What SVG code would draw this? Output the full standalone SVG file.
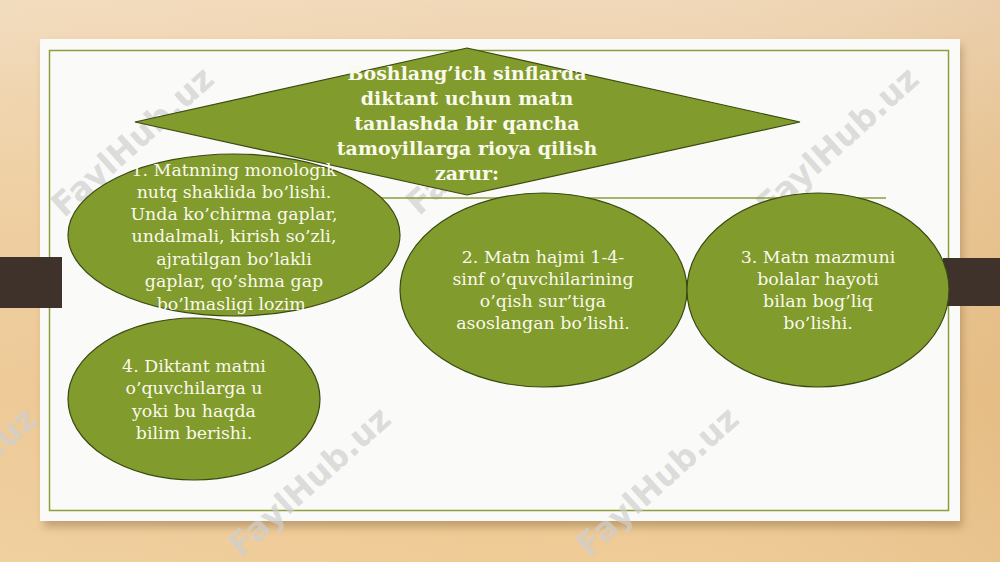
<svg xmlns="http://www.w3.org/2000/svg" width="1000" height="562" viewBox="0 0 1000 562">
  <defs>
    <linearGradient id="wood" x1="0" y1="0" x2="0" y2="1">
      <stop offset="0" stop-color="#f1d8b8"/>
      <stop offset="0.3" stop-color="#edcc9c"/>
      <stop offset="0.7" stop-color="#ebc48c"/>
      <stop offset="1" stop-color="#efcb96"/>
    </linearGradient>
    <linearGradient id="woodH" x1="0" y1="0" x2="1" y2="0">
      <stop offset="0" stop-color="#ffffff" stop-opacity="0.10"/>
      <stop offset="0.5" stop-color="#ffffff" stop-opacity="0"/>
      <stop offset="1" stop-color="#b07a40" stop-opacity="0.10"/>
    </linearGradient>
    <filter id="shadow" x="-5%" y="-5%" width="110%" height="115%">
      <feGaussianBlur stdDeviation="4"/>
    </filter>
    <style>
      .node { fill: #819b2c; stroke: #3b4a12; stroke-width: 1.2; }
      .t { font-family: "DejaVu Serif", "Liberation Serif", serif; fill: #f9f9ec; text-anchor: middle; font-size: 17.4px; }
      .tb { font-family: "DejaVu Serif", "Liberation Serif", serif; fill: #f9f9ec; text-anchor: middle; font-size: 19px; font-weight: bold; }
      .wm { font-family: "DejaVu Sans", "Liberation Sans", sans-serif; font-weight: bold; font-size: 33px; fill: #cfcfcf; fill-opacity: 0.7; text-anchor: middle; }
      .bar { fill: #3e322b; }
    </style>
  </defs>

  <!-- background -->
  <rect x="0" y="0" width="1000" height="562" fill="url(#wood)"/>
  <rect x="0" y="0" width="1000" height="562" fill="url(#woodH)"/>

  <!-- slide panel -->
  <rect x="44" y="45" width="918" height="482" fill="#6b4a28" opacity="0.35" filter="url(#shadow)"/>
  <rect x="40" y="39" width="920" height="482" fill="#fafaf8"/>
  <rect x="49.5" y="50.5" width="899" height="460" fill="none" stroke="#8a9e3c" stroke-width="1.5"/>

  <!-- side bars -->
  <rect class="bar" x="0" y="257" width="62" height="51"/>
  <rect class="bar" x="943" y="258" width="57" height="48"/>

  <!-- watermarks -->
  <g id="watermarks">
    <text class="wm" transform="translate(140,150) rotate(-42)">FaylHub.uz</text>
    <text class="wm" transform="translate(495,148) rotate(-42)">FaylHub.uz</text>
    <text class="wm" transform="translate(845,150) rotate(-42)">FaylHub.uz</text>
    <text class="wm" transform="translate(-37,490) rotate(-42)">FaylHub.uz</text>
    <text class="wm" transform="translate(317,490) rotate(-42)">FaylHub.uz</text>
    <text class="wm" transform="translate(665,490) rotate(-42)">FaylHub.uz</text>
  </g>

  <!-- connectors -->
  <g id="connectors">
    <line x1="380" y1="198" x2="886" y2="198" stroke="#8a9e3c" stroke-width="1.3"/>
  </g>

  <g id="node-title">
    <polygon class="node" points="135,122 467,48 800,122 467,195"/>
    <text class="tb" x="467" y="80">Boshlang’ich sinflarda</text>
    <text class="tb" x="467" y="105">diktant uchun matn</text>
    <text class="tb" x="467" y="130">tanlashda bir qancha</text>
    <text class="tb" x="467" y="155">tamoyillarga rioya qilish</text>
    <text class="tb" x="467" y="180">zarur:</text>
  </g>

  <g id="node-1">
    <ellipse class="node" cx="234" cy="235" rx="166" ry="81"/>
    <text class="t" x="234" y="176">1. Matnning monologik</text>
    <text class="t" x="234" y="198">nutq shaklida bo’lishi.</text>
    <text class="t" x="234" y="220">Unda ko’chirma gaplar,</text>
    <text class="t" x="234" y="242">undalmali, kirish so’zli,</text>
    <text class="t" x="234" y="265">ajratilgan bo’lakli</text>
    <text class="t" x="234" y="287">gaplar, qo’shma gap</text>
    <text class="t" x="234" y="310">bo’lmasligi lozim.</text>
  </g>

  <g id="node-2">
    <ellipse class="node" cx="543.5" cy="290" rx="143.5" ry="97"/>
    <text class="t" x="543" y="263">2. Matn hajmi 1-4-</text>
    <text class="t" x="543" y="285">sinf o’quvchilarining</text>
    <text class="t" x="543" y="307">o’qish sur’tiga</text>
    <text class="t" x="543" y="329">asoslangan bo’lishi.</text>
  </g>

  <g id="node-3">
    <ellipse class="node" cx="818" cy="290" rx="131" ry="97"/>
    <text class="t" x="818" y="263">3. Matn mazmuni</text>
    <text class="t" x="818" y="285">bolalar hayoti</text>
    <text class="t" x="818" y="307">bilan bog’liq</text>
    <text class="t" x="818" y="329">bo’lishi.</text>
  </g>

  <g id="node-4">
    <ellipse class="node" cx="194" cy="399" rx="126" ry="81"/>
    <text class="t" x="194" y="372">4. Diktant matni</text>
    <text class="t" x="194" y="394">o’quvchilarga u</text>
    <text class="t" x="194" y="417">yoki bu haqda</text>
    <text class="t" x="194" y="439">bilim berishi.</text>
  </g>
</svg>
